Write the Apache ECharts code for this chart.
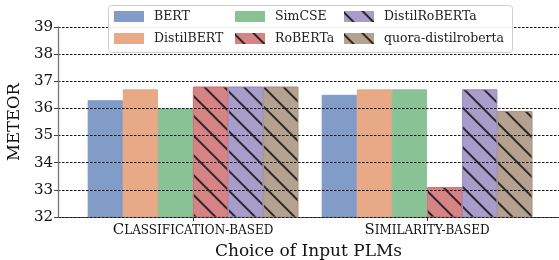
<!DOCTYPE html>
<html><head><meta charset="utf-8">
<script src="https://cdn.jsdelivr.net/npm/echarts@6/dist/echarts.min.js"></script>
<style>html,body{margin:0;padding:0;background:#fff}#c{width:559px;height:260px}</style>
</head><body><div id="c"></div>
<script>
const categories = ['Classification-based', 'Similarity-based'];
const catPos = [0, 1];
const models = ['BERT', 'DistilBERT', 'SimCSE', 'RoBERTa', 'DistilRoBERTa', 'quora-distilroberta'];
const bert = [36.3, 36.5];
const distilbert = [36.7, 36.7];
const simcse = [36.0, 36.7];
const roberta = [36.8, 33.1];
const distilroberta = [36.8, 36.7];
const quora = [36.8, 35.9];
const yMin = 32, yMax = 39, yStep = 1;
const xLabelsCaps = [['C', 'LASSIFICATION-BASED'], ['S', 'IMILARITY-BASED']];

const values = [bert, distilbert, simcse, roberta, distilroberta, quora];
const fills = ['#829cc8', '#e7a986', '#88c295', '#d68386', '#a79cca', '#b4a190'];
const edges = ['#7290c2', '#e29f79', '#7cba8a', '#cf7478', '#9b8fc4', '#a99584'];
const hatched = [false, false, false, true, true, true];
const FONT = 'DejaVu Serif';

const hatch = {
  symbol: 'rect', symbolSize: 1,
  dashArrayX: [1, 0], dashArrayY: [1.1, 11.5],
  rotation: Math.PI / 4, color: 'rgba(20,20,20,0.85)'
};

const series = models.map((m, i) => ({
  name: m, type: 'bar',
  barWidth: 35.1, barGap: '0%',
  data: catPos.map((x, j) => [x, values[i][j]]),
  itemStyle: Object.assign({color: fills[i], borderColor: edges[i], borderWidth: 0.8},
    hatched[i] ? {decal: hatch} : {}),
  emphasis: {disabled: true}
}));

const legendCommon = {
  orient: 'vertical', itemWidth: 30, itemHeight: 11, itemGap: 8, padding: 0,
  icon: 'rect', z: 12, selectedMode: false,
  itemStyle: {borderWidth: 0},
  textStyle: {fontFamily: FONT, fontSize: 12.5, color: '#222', lineHeight: 14, padding: [0, 0, 0, 5]}
};

const chart = echarts.init(document.getElementById('c'), null, {renderer: 'canvas'});
chart.setOption({
  animation: false,
  aria: {decal: {show: false}},
  grid: {left: 58, right: 0, top: 27, bottom: 43, containLabel: false, outerBoundsMode: 'none'},
  graphic: [{
    type: 'rect', z: 10, silent: true,
    shape: {x: 108.5, y: 5.5, width: 404, height: 47, r: 3},
    style: {fill: 'rgba(255,255,255,0.9)', stroke: '#cfcfcf', lineWidth: 1}
  }],
  legend: [
    Object.assign({}, legendCommon, {left: 114, top: 9.5, data: [models[0], models[1]]}),
    Object.assign({}, legendCommon, {left: 235, top: 9.5, data: [models[2], models[3]]}),
    Object.assign({}, legendCommon, {left: 344, top: 9.5, data: [models[4], models[5]]})
  ],
  xAxis: {
    type: 'value', min: -0.577, max: 1.564,
    name: 'Choice of Input PLMs', nameLocation: 'middle', nameGap: 24,
    nameTextStyle: {fontFamily: FONT, fontSize: 17, color: '#111'},
    splitLine: {show: false},
    axisLine: {show: true, onZero: false, lineStyle: {color: '#555', width: 1}},
    axisTick: {show: true, customValues: catPos, length: 4, lineStyle: {color: '#333'}},
    axisLabel: {
      customValues: catPos, margin: 6,
      formatter: v => { const k = Math.round(v); return '{a|' + xLabelsCaps[k][0] + '}{b|' + xLabelsCaps[k][1] + '}'; },
      rich: {
        a: {fontFamily: FONT, fontSize: 15, color: '#111'},
        b: {fontFamily: FONT, fontSize: 12, color: '#111'}
      }
    }
  },
  yAxis: {
    type: 'value', min: yMin, max: yMax, interval: yStep, z: 5,
    name: 'METEOR', nameLocation: 'middle', nameGap: 32, nameRotate: 90,
    nameTextStyle: {fontFamily: FONT, fontSize: 16.5, color: '#111'},
    axisLine: {show: true, onZero: false, lineStyle: {color: '#777', width: 1.3}},
    axisTick: {show: true, length: 4, lineStyle: {color: '#444'}},
    axisLabel: {fontFamily: FONT, fontSize: 15, color: '#111', margin: 5},
    splitLine: {show: true, lineStyle: {color: '#1a1a1a', width: 1, type: [2.5, 1.5]}}
  },
  series: series
});
</script></body></html>
